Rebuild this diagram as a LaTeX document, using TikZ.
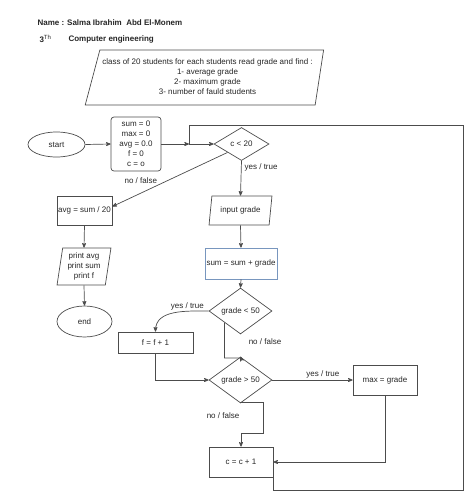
\documentclass[tikz,border=0pt]{standalone}
\usepackage{fontspec}
\setmainfont{Liberation Sans}
\usetikzlibrary{shapes,arrows,positioning,calc}
\definecolor{sumblue}{RGB}{120,150,190}

\begin{document}
\begin{tikzpicture}
    [x=1pt,y=-1pt,
    every node/.style={font=\fontsize{8}{10}\selectfont,text=black!85},
    title/.style={anchor=west,font=\fontsize{8}{10}\selectfont\bfseries},
    box/.style 2 args={
        draw=black!70,
        line width=0.7pt,
        rectangle,
        inner sep=0pt,
        align=center,
        minimum width=#1,
        minimum height=#2
    },
    box/.default={60pt}{30pt},
    round box/.style 2 args={box={#1}{#2},rounded corners=3pt},
    term/.style 2 args={box={#1}{#2},ellipse},
    decision/.style 2 args={box={#1}{#2},diamond},
    io/.style 2 args={
        box={#1}{#2},
        trapezium,
        trapezium left angle=75,
        trapezium right angle=105,
        trapezium stretches=true
    },
    note/.style={inner sep=1pt},
    arrow/.style={>=stealth',->,draw=black!70,line width=0.7pt}]

    \useasboundingbox (0,0) rectangle (474,501);

    %%% header
    \node (name) [title] at (34,23) {Name : Salma Ibrahim~ Abd El-Monem};
    \node (year) [title] at (36,39) {3\textsuperscript{\mdseries Th}};
    \node (dept) [title] at (65,39) {Computer engineering};

    \node (prob) [io={239pt}{55pt}, trapezium left angle=73, trapezium right angle=100] at (207.5,77.5)
        {\makebox[180pt]{\begin{tabular}{@{}c@{}}
            class of 20 students for each students read grade and find :\\
            1- average grade\\
            2- maximum grade\\
            3- number of fauld students
        \end{tabular}}};

    %%% content
    \node (start) [term={57pt}{25pt}] at (56.5,144.5) {start};
    \node (init) [round box={50pt}{54pt}] at (136,144) {sum = 0\\max = 0\\avg = 0.0\\f = 0\\c = o};
    \node (lt20) [decision={55pt}{33pt}] at (241.5,144) {c < 20};

    \node (avg) [box={55pt}{29pt}] at (84.5,210.5) {avg = sum / 20};
    \node (print) [io={54pt}{37pt}, trapezium left angle=81, trapezium right angle=99] at (84,266.5)
        {print avg\\print sum\\print f};
    \node (end) [term={55pt}{31pt}] at (84.5,321.5) {end};

    \node (input) [io={63pt}{29pt}] at (240.5,210.5) {input grade};
    \node (sum) [box={72pt}{31pt}, draw=sumblue] at (241,263.5) {sum = sum + grade};
    \node (lt50) [decision={63pt}{36pt}] at (240.5,311) {grade < 50};
    \node (f) [box={75pt}{21pt}] at (155.5,342.5) {f = f + 1};
    \node (gt50) [decision={63pt}{34pt}] at (240.5,380) {grade > 50};
    \node (max) [box={64pt}{30pt}] at (385,380) {max = grade};
    \node (cc) [box={64pt}{30pt}] at (241,462) {c = c + 1};

    %% bends
    \coordinate (join) at (189,144);
    \coordinate (loop br) at (463,490);
    \coordinate (loop tr) at (463,125);
    \coordinate (fail in) at (241,358);
    \coordinate (pass out) at (263,402);
    \coordinate (pass in) at (263,433);

    %% lines
    \draw[arrow] (start.east) -- (init.west);
    \draw[arrow] (init.east) -- (join);
    \draw[arrow] (cc.south east) |- (loop br) -- (loop tr) -| (join) -- (lt20.west);
    \draw[arrow] (lt20.south) -- node[note, pos=0.2, right=2pt] (yes1) {yes / true} (input.north);
    \draw[arrow] (lt20.south west) -- node[note, pos=0.6, anchor=south east] (no1) {no / false} ([yshift=4pt]avg.east);
    \draw[arrow] (avg.south) -- (print.north);
    \draw[arrow] (print.south) -- (end.north);
    \draw[arrow] (input.south) -- (sum.north);
    \draw[arrow] (sum.south) -- (lt50.north);
    \draw[arrow] (lt50.west) to[out=180,in=90] node[note, pos=0.3, above] (yes2) {yes / true} (f.north);
    \draw[arrow] (lt50.south west) |- (fail in) -- (gt50.north);
    \node (no2) [note] at (265,342) {no / false};
    \draw[arrow] (f.south) |- (gt50.west);
    \draw[arrow] (gt50.east) -- node[note, pos=0.63, above] (yes3) {yes / true} (max.west);
    \draw[arrow] (gt50.south) |- (pass out) -- (pass in) -| (cc.north);
    \node (no3) [note] at (223,416) {no / false};
    \draw[arrow] (max.south) |- (cc.east);
\end{tikzpicture}
\end{document}
